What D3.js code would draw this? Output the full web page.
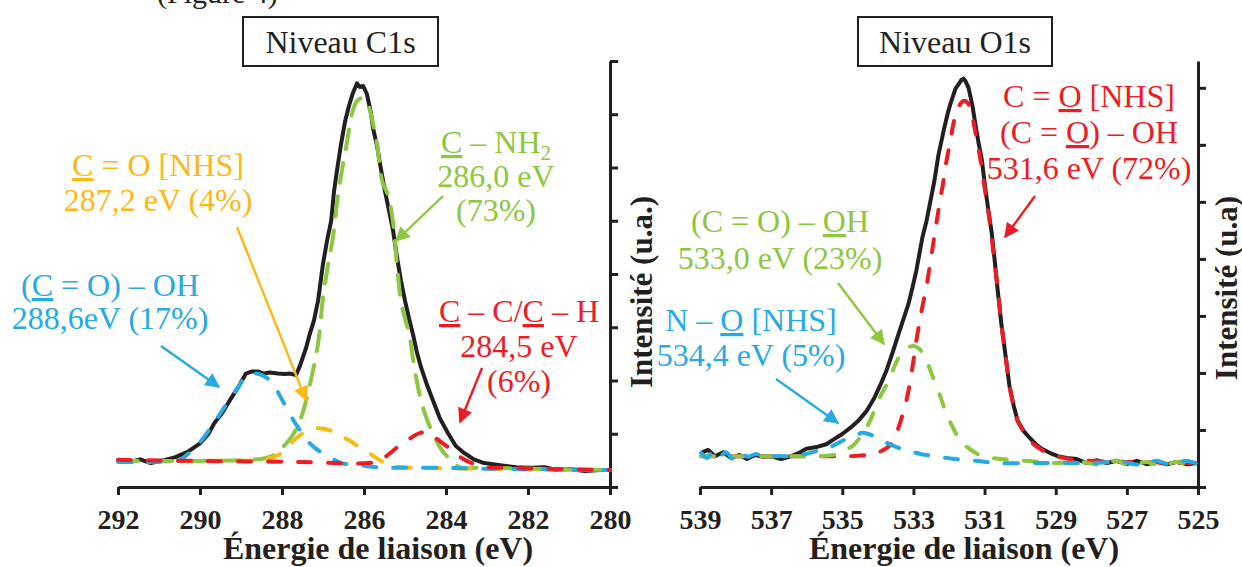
<!DOCTYPE html>
<html><head><meta charset="utf-8">
<script src="https://cdn.jsdelivr.net/npm/d3@7"></script>
<style>
html,body{margin:0;padding:0;background:#fff;}
svg{display:block;}
</style></head>
<body>
<script>
// ---------- DATA (energy eV, intensity a.u.) ----------
const c1sTicks = [292, 290, 288, 286, 284, 282, 280];
const o1sTicks = [539, 537, 535, 533, 531, 529, 527, 525];

const c1sEnvelope = [[292.0,0.51],[291.7,0.47],[291.46,0.52],[291.2,0.45],[290.85,0.51],[290.6,0.56],[290.3,0.66],[290.0,0.82],[289.8,0.99],[289.65,1.2],[289.45,1.4],[289.27,1.63],[289.07,1.87],[288.88,2.13],[288.73,2.17],[288.59,2.17],[288.44,2.13],[288.3,2.15],[288.1,2.13],[287.93,2.12],[287.8,2.13],[287.66,2.1],[287.56,2.28],[287.41,2.62],[287.32,2.88],[287.22,3.13],[287.12,3.5],[287.0,4.19],[286.9,4.63],[286.8,5.0],[286.73,5.56],[286.66,5.94],[286.56,6.44],[286.46,6.87],[286.37,7.15],[286.27,7.4],[286.17,7.58],[286.1,7.51],[286.02,7.53],[285.93,7.38],[285.83,7.02],[285.78,6.74],[285.68,6.4],[285.61,6.07],[285.49,5.56],[285.39,5.19],[285.29,4.81],[285.2,4.34],[285.1,3.88],[285.0,3.5],[284.9,3.16],[284.8,2.85],[284.71,2.53],[284.61,2.25],[284.46,1.91],[284.32,1.63],[284.15,1.29],[283.95,1.01],[283.76,0.77],[283.56,0.64],[283.32,0.52],[283.07,0.45],[282.68,0.41],[282.29,0.37],[281.95,0.36],[281.59,0.37],[281.32,0.32],[280.98,0.34],[280.61,0.3],[280.24,0.32],[280.0,0.32]];
const c1sCOOH = [[292.0,0.47],[291.22,0.47],[290.49,0.51],[290.24,0.66],[290.0,0.84],[289.66,1.2],[289.37,1.54],[289.07,1.87],[288.88,2.08],[288.68,2.13],[288.49,2.1],[288.29,2.0],[288.1,1.78],[287.9,1.5],[287.71,1.24],[287.51,1.01],[287.32,0.82],[287.12,0.69],[286.83,0.56],[286.56,0.45],[286.1,0.41],[285.68,0.37],[285.12,0.36],[284.24,0.36],[282.68,0.34],[280.0,0.32]];
const c1sNHS = [[292.0,0.49],[290.0,0.49],[288.54,0.51],[288.2,0.56],[287.95,0.67],[287.71,0.88],[287.49,1.01],[287.24,1.09],[287.05,1.1],[286.85,1.07],[286.61,0.97],[286.37,0.88],[286.12,0.75],[285.88,0.64],[285.63,0.51],[285.39,0.41],[285.05,0.37],[284.71,0.36],[283.17,0.34],[280.0,0.32]];
const c1sNH2 = [[292.0,0.49],[290.0,0.49],[288.78,0.51],[288.41,0.54],[288.2,0.6],[287.95,0.77],[287.71,1.01],[287.56,1.25],[287.41,1.63],[287.27,2.1],[287.12,2.7],[287.0,3.56],[286.88,4.16],[286.76,4.68],[286.63,5.51],[286.54,5.94],[286.41,6.5],[286.29,7.02],[286.17,7.25],[286.05,7.3],[285.93,7.21],[285.85,7.06],[285.73,6.63],[285.68,6.44],[285.56,5.75],[285.41,5.47],[285.29,4.96],[285.2,4.21],[285.1,3.5],[285.0,3.16],[284.9,2.88],[284.76,2.19],[284.61,1.63],[284.44,1.22],[284.24,0.88],[284.1,0.69],[283.95,0.56],[283.66,0.37],[283.17,0.36],[280.0,0.32]];
const c1sCC = [[292.0,0.51],[290.0,0.49],[287.56,0.47],[285.88,0.45],[285.63,0.49],[285.39,0.62],[285.15,0.77],[284.9,0.9],[284.71,0.99],[284.51,1.03],[284.34,0.97],[284.15,0.86],[283.85,0.69],[283.61,0.54],[283.37,0.45],[283.02,0.37],[282.68,0.36],[280.0,0.32]];

const o1sEnvelope = [[538.97,0.6],[538.77,0.65],[538.58,0.54],[538.35,0.61],[538.13,0.51],[537.9,0.56],[537.68,0.49],[537.45,0.56],[537.23,0.53],[537.0,0.54],[536.72,0.49],[536.44,0.54],[536.21,0.6],[536.01,0.67],[535.73,0.7],[535.45,0.75],[535.23,0.84],[535.0,0.93],[534.77,1.04],[534.55,1.16],[534.32,1.33],[534.1,1.56],[533.93,1.79],[533.76,2.04],[533.59,2.35],[533.42,2.68],[533.25,3.0],[533.14,3.21],[533.03,3.49],[532.92,3.79],[532.75,4.37],[532.63,4.67],[532.52,5.02],[532.41,5.37],[532.3,5.81],[532.15,6.25],[532.04,6.54],[531.96,6.72],[531.82,6.98],[531.7,7.09],[531.65,7.14],[531.59,7.16],[531.54,7.12],[531.45,7.0],[531.34,6.68],[531.25,6.33],[531.17,6.04],[531.08,5.75],[530.97,5.19],[530.89,4.84],[530.8,4.46],[530.72,4.0],[530.63,3.44],[530.52,2.82],[530.41,2.3],[530.3,1.77],[530.18,1.42],[530.07,1.16],[529.9,0.98],[529.73,0.86],[529.56,0.75],[529.39,0.67],[529.17,0.6],[528.94,0.54],[528.69,0.51],[528.41,0.49],[528.13,0.42],[527.85,0.47],[527.56,0.42],[527.28,0.46],[527.0,0.4],[526.72,0.46],[526.44,0.4],[526.15,0.44],[525.87,0.4],[525.59,0.44],[525.31,0.4],[525.0,0.42]];
const o1sCO = [[538.97,0.54],[537.31,0.54],[535.68,0.54],[534.77,0.54],[534.32,0.56],[534.1,0.58],[533.76,0.68],[533.56,0.81],[533.42,1.04],[533.2,1.51],[533.03,2.09],[532.92,2.56],[532.77,3.09],[532.63,3.53],[532.52,3.96],[532.41,4.4],[532.3,4.84],[532.18,5.28],[532.07,5.72],[531.96,6.07],[531.87,6.39],[531.76,6.63],[531.59,6.77],[531.48,6.74],[531.37,6.56],[531.23,6.12],[531.11,5.72],[531.0,5.25],[530.89,4.81],[530.8,4.37],[530.72,3.93],[530.63,3.49],[530.52,2.82],[530.41,2.3],[530.3,1.77],[530.18,1.42],[530.07,1.16],[529.85,0.93],[529.62,0.75],[529.39,0.65],[529.17,0.58],[528.92,0.53],[528.63,0.49],[528.01,0.46],[526.89,0.44],[525.0,0.42]];
const o1sOH = [[538.97,0.54],[536.46,0.54],[535.68,0.54],[535.11,0.58],[534.89,0.65],[534.66,0.75],[534.49,0.88],[534.32,1.04],[534.15,1.26],[533.99,1.51],[533.82,1.72],[533.65,1.91],[533.54,2.11],[533.42,2.26],[533.25,2.4],[533.11,2.46],[532.97,2.47],[532.83,2.42],[532.72,2.32],[532.63,2.21],[532.52,2.04],[532.41,1.86],[532.24,1.58],[532.1,1.33],[531.93,1.09],[531.76,0.89],[531.59,0.75],[531.42,0.67],[531.2,0.58],[530.97,0.53],[530.55,0.49],[530.07,0.47],[529.42,0.44],[528.94,0.42],[528.3,0.44],[527.73,0.39],[527.31,0.46],[526.89,0.37],[526.46,0.44],[526.04,0.37],[525.62,0.44],[525.25,0.39],[525.0,0.35]];
const o1sNO = [[538.97,0.6],[538.8,0.51],[538.63,0.63],[538.46,0.53],[538.27,0.61],[538.07,0.49],[537.87,0.6],[537.65,0.53],[537.42,0.58],[537.2,0.51],[536.89,0.54],[536.46,0.54],[536.18,0.56],[535.9,0.6],[535.62,0.65],[535.34,0.7],[535.06,0.79],[534.83,0.86],[534.61,0.91],[534.44,0.95],[534.27,0.93],[534.07,0.88],[533.85,0.81],[533.56,0.72],[533.23,0.65],[532.8,0.58],[532.32,0.53],[531.82,0.49],[531.25,0.46],[530.63,0.42],[529.7,0.42],[528.86,0.42],[528.01,0.42],[527.17,0.44],[526.61,0.39],[526.18,0.46],[525.76,0.39],[525.34,0.46],[525.0,0.4]];

// ---------- STYLE ----------
const INK = "#231F20", BLUE = "#27AAE1", YELLOW = "#FDB913", GREEN = "#8DC63F", RED = "#ED1C24";
const SERIF = "'Liberation Serif','Times New Roman',serif";

const svg = d3.select("body").append("svg").attr("width", 1242).attr("height", 567)
  .style("font-family", SERIF);

const defs = svg.append("defs");
[["b", BLUE], ["y", YELLOW], ["g", GREEN], ["r", RED]].forEach(([id, c]) => {
  defs.append("marker").attr("id", "arr-" + id).attr("viewBox", "0 0 10 10")
    .attr("refX", 9).attr("refY", 5).attr("markerWidth", 6.8).attr("markerHeight", 6.2)
    .attr("markerUnits", "strokeWidth").attr("orient", "auto")
    .append("path").attr("d", "M0,0 L10,5 L0,10 Z").attr("fill", c);
});

function panel(cfg) {
  const x = d3.scaleLinear().domain(cfg.xDomain).range(cfg.xRange);
  const y = d3.scaleLinear().domain(cfg.yDomain).range([487, 61]);
  const g = svg.append("g");

  // axes
  const ax = g.append("g").attr("transform", "translate(0,487)")
    .call(d3.axisBottom(x).tickValues(cfg.ticks).tickSize(8).tickSizeOuter(0).tickFormat(d3.format("d")));
  ax.select(".domain").attr("stroke", INK).attr("stroke-width", 3);
  ax.selectAll(".tick line").attr("stroke", INK).attr("stroke-width", 3);
  ax.selectAll(".tick text").attr("y", 42).attr("dy", 0).attr("fill", INK)
    .style("font-family", SERIF).style("font-size", "28px").style("font-weight", "bold");

  const ay = g.append("g").attr("transform", `translate(${cfg.xRange[1]},0)`)
    .call(d3.axisRight(y).tickValues(d3.range(0, Math.floor(cfg.yDomain[1]) + 1)).tickSize(8).tickSizeOuter(0).tickFormat(""));
  ay.select(".domain").attr("stroke", INK).attr("stroke-width", 3);
  ay.selectAll(".tick line").attr("stroke", INK).attr("stroke-width", 3);

  g.append("text").attr("x", cfg.xTitleX).attr("y", 559).attr("text-anchor", "middle")
    .attr("fill", INK).style("font-size", "32px").style("font-weight", "bold")
    .text("Énergie de liaison (eV)");
  g.append("text").attr("transform", `translate(${cfg.yTitle[0]},${cfg.yTitle[1]}) rotate(-90)`)
    .attr("text-anchor", "middle").attr("dominant-baseline", "central")
    .attr("fill", INK).style("font-size", "31px").style("font-weight", "bold")
    .text(cfg.yLabel);

  // title box
  g.append("rect").attr("x", cfg.box[0]).attr("y", cfg.box[1]).attr("width", cfg.box[2]).attr("height", cfg.box[3])
    .attr("fill", "#fff").attr("stroke", INK).attr("stroke-width", 2);
  g.append("text").attr("x", cfg.box[0] + cfg.box[2] / 2).attr("y", cfg.box[1] + cfg.box[3] / 2 + 11)
    .attr("text-anchor", "middle").attr("fill", INK).style("font-size", "32px").text(cfg.title);

  // curves
  const lineRaw = d3.line().x(d => x(d[0])).y(d => y(d[1]));
  const lineSmooth = d3.line().x(d => x(d[0])).y(d => y(d[1])).curve(d3.curveCatmullRom.alpha(0.5));
  g.append("path").datum(cfg.envelope).attr("d", lineRaw).attr("fill", "none")
    .attr("stroke", INK).attr("stroke-width", 4).attr("stroke-linejoin", "round");
  cfg.comps.forEach(c => {
    g.append("path").datum(c.data).attr("d", lineSmooth).attr("fill", "none")
      .attr("stroke", c.color).attr("stroke-width", 4).attr("stroke-linecap", "round")
      .attr("stroke-dasharray", c.dash);
  });

  // annotations
  cfg.notes.forEach(n => {
    const t = g.append("text").attr("text-anchor", "middle").attr("fill", n.color).style("font-size", "32px");
    n.lines.forEach((ln, i) => {
      const row = t.append("tspan").attr("x", n.x).attr("y", n.y0 + i * n.dy);
      ln.forEach(part => {
        const s = row.append("tspan").text(part.t);
        if (part.u) s.attr("text-decoration", "underline");
        if (part.sub) s.attr("dy", 7).style("font-size", "21px");
      });
    });
    g.append("line").attr("x1", n.arrow[0]).attr("y1", n.arrow[1]).attr("x2", n.arrow[2]).attr("y2", n.arrow[3])
      .attr("stroke", n.color).attr("stroke-width", 2.4).attr("marker-end", `url(#arr-${n.mk})`);
  });
}

// cut-off caption at the top
svg.append("text").attr("x", 157).attr("y", 3).attr("fill", INK).style("font-size", "30px").text("(Figure 4)");

panel({
  xDomain: [292, 280], xRange: [118, 610], yDomain: [0, 8], ticks: c1sTicks,
  xTitleX: 378, yTitle: [641, 292], yLabel: "Intensité (u.a.)",
  box: [243, 17, 195, 49], title: "Niveau C1s",
  envelope: c1sEnvelope,
  comps: [
    {data: c1sNH2, color: GREEN, dash: "20,14"},
    {data: c1sNHS, color: YELLOW, dash: "13,17"},
    {data: c1sCOOH, color: BLUE, dash: "13,17"},
    {data: c1sCC, color: RED, dash: "13,17"}
  ],
  notes: [
    {color: YELLOW, mk: "y", x: 158, y0: 176, dy: 35, lines: [[{t: "C", u: 1}, {t: " = O [NHS]"}], [{t: "287,2 eV (4%)"}]], arrow: [237, 227, 306, 400]},
    {color: GREEN, mk: "g", x: 496, y0: 153, dy: 34, lines: [[{t: "C", u: 1}, {t: " – NH"}, {t: "2", sub: 1}], [{t: "286,0 eV", dy: 0}], [{t: "(73%)"}]], arrow: [443, 196, 396, 241]},
    {color: BLUE, mk: "b", x: 110, y0: 296, dy: 33, lines: [[{t: "("}, {t: "C", u: 1}, {t: " = O) – OH"}], [{t: "288,6eV (17%)"}]], arrow: [161, 346, 219, 387]},
    {color: RED, mk: "r", x: 519, y0: 322, dy: 35, lines: [[{t: "C", u: 1}, {t: " – C/"}, {t: "C", u: 1}, {t: " – H"}], [{t: "284,5 eV"}], [{t: "(6%)"}]], arrow: [482, 368, 460, 422]}
  ]
});

panel({
  xDomain: [539, 525], xRange: [700, 1198], yDomain: [0, 7.47], ticks: o1sTicks,
  xTitleX: 964, yTitle: [1226, 288], yLabel: "Intensité (u.a)",
  box: [858, 17, 194, 49], title: "Niveau O1s",
  envelope: o1sEnvelope,
  comps: [
    {data: o1sCO, color: RED, dash: "13,17"},
    {data: o1sOH, color: GREEN, dash: "13,17"},
    {data: o1sNO, color: BLUE, dash: "13,17"}
  ],
  notes: [
    {color: RED, mk: "r", x: 1089, y0: 107, dy: 36, lines: [[{t: "C = "}, {t: "O", u: 1}, {t: " [NHS]"}], [{t: "(C = "}, {t: "O", u: 1}, {t: ") – OH"}], [{t: "531,6 eV (72%)"}]], arrow: [1035, 196, 1005, 237]},
    {color: GREEN, mk: "g", x: 780, y0: 232, dy: 37, lines: [[{t: "(C = O) – "}, {t: "O", u: 1}, {t: "H"}], [{t: "533,0 eV (23%)"}]], arrow: [838, 283, 884, 344]},
    {color: BLUE, mk: "b", x: 751, y0: 331, dy: 35, lines: [[{t: "N – "}, {t: "O", u: 1}, {t: " [NHS]"}], [{t: "534,4 eV (5%)"}]], arrow: [776, 379, 838, 423]}
  ]
});
</script>
</body></html>
